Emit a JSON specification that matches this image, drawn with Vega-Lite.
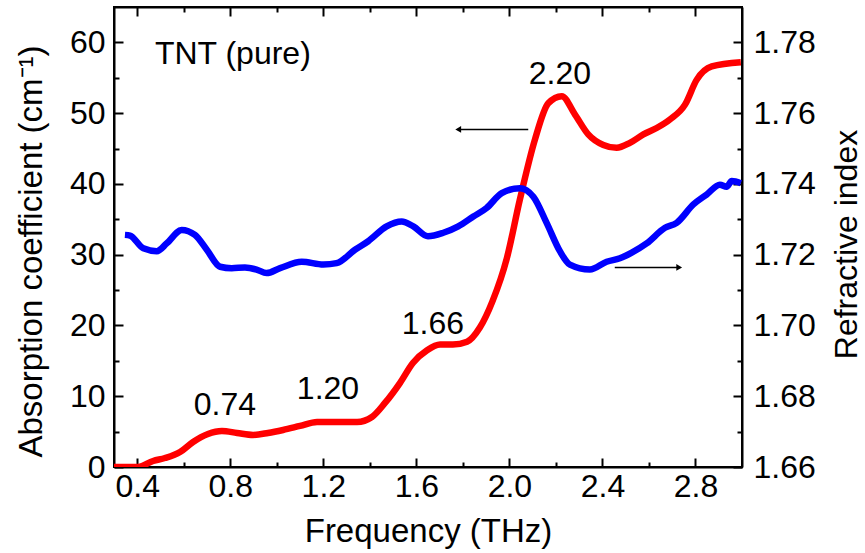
{
  "$schema": "https://vega.github.io/schema/vega-lite/v6.json",
  "width": 628,
  "height": 460,
  "autosize": {"type": "none"},
  "padding": {"left": 114, "top": 7, "right": 123, "bottom": 86},
  "background": "white",
  "config": {
    "font": "Liberation Sans",
    "view": {"stroke": "black", "strokeWidth": 2},
    "axis": {
      "domainColor": "black", "domainWidth": 2, "tickColor": "black", "tickWidth": 2,
      "labelFont": "Liberation Sans", "labelFontSize": 32, "labelColor": "black",
      "titleFont": "Liberation Sans", "titleFontSize": 33, "titleFontWeight": "normal", "titleColor": "black",
      "grid": false
    }
  },
  "datasets": {
    "absorption": [
      {"f": 0.30, "a": 0}, {"f": 0.403, "a": 0}, {"f": 0.468, "a": 0.85}, {"f": 0.519, "a": 1.27},
      {"f": 0.584, "a": 2.12}, {"f": 0.640, "a": 3.54}, {"f": 0.704, "a": 4.67}, {"f": 0.764, "a": 5.09},
      {"f": 0.829, "a": 4.81}, {"f": 0.898, "a": 4.53}, {"f": 0.962, "a": 4.81}, {"f": 1.027, "a": 5.23},
      {"f": 1.100, "a": 5.80}, {"f": 1.173, "a": 6.36}, {"f": 1.237, "a": 6.36}, {"f": 1.345, "a": 6.36},
      {"f": 1.409, "a": 7.07}, {"f": 1.465, "a": 9.05}, {"f": 1.530, "a": 11.9}, {"f": 1.585, "a": 14.7},
      {"f": 1.646, "a": 16.5}, {"f": 1.702, "a": 17.3}, {"f": 1.757, "a": 17.3}, {"f": 1.818, "a": 17.7},
      {"f": 1.873, "a": 19.7}, {"f": 1.927, "a": 23.4}, {"f": 1.989, "a": 29.5}, {"f": 2.045, "a": 37.8},
      {"f": 2.110, "a": 46.3}, {"f": 2.167, "a": 51.4}, {"f": 2.225, "a": 52.4}, {"f": 2.282, "a": 49.8},
      {"f": 2.339, "a": 47.0}, {"f": 2.404, "a": 45.5}, {"f": 2.461, "a": 45.1}, {"f": 2.518, "a": 45.8},
      {"f": 2.576, "a": 47.0}, {"f": 2.633, "a": 47.9}, {"f": 2.690, "a": 49.1}, {"f": 2.755, "a": 51.2},
      {"f": 2.805, "a": 54.7}, {"f": 2.870, "a": 56.6}, {"f": 2.995, "a": 57.2}
    ],
    "index": [
      {"f": 0.347, "n": 1.7256}, {"f": 0.369, "n": 1.7254}, {"f": 0.426, "n": 1.7218}, {"f": 0.484, "n": 1.7210},
      {"f": 0.527, "n": 1.7232}, {"f": 0.591, "n": 1.7270}, {"f": 0.648, "n": 1.7256}, {"f": 0.699, "n": 1.7214},
      {"f": 0.756, "n": 1.7166}, {"f": 0.806, "n": 1.7162}, {"f": 0.863, "n": 1.7164}, {"f": 0.913, "n": 1.7158},
      {"f": 0.956, "n": 1.7148}, {"f": 1.014, "n": 1.7162}, {"f": 1.107, "n": 1.7180}, {"f": 1.200, "n": 1.7172},
      {"f": 1.257, "n": 1.7176}, {"f": 1.336, "n": 1.7214}, {"f": 1.393, "n": 1.7238}, {"f": 1.472, "n": 1.7280},
      {"f": 1.537, "n": 1.7294}, {"f": 1.587, "n": 1.7280}, {"f": 1.650, "n": 1.7252}, {"f": 1.716, "n": 1.7262},
      {"f": 1.780, "n": 1.7280}, {"f": 1.845, "n": 1.7308}, {"f": 1.902, "n": 1.7332}, {"f": 1.967, "n": 1.7374},
      {"f": 2.045, "n": 1.7388}, {"f": 2.103, "n": 1.7364}, {"f": 2.160, "n": 1.7290}, {"f": 2.217, "n": 1.7210},
      {"f": 2.260, "n": 1.7172}, {"f": 2.346, "n": 1.7158}, {"f": 2.418, "n": 1.7180}, {"f": 2.475, "n": 1.7190},
      {"f": 2.526, "n": 1.7206}, {"f": 2.590, "n": 1.7232}, {"f": 2.669, "n": 1.7276}, {"f": 2.719, "n": 1.7290},
      {"f": 2.791, "n": 1.7342}, {"f": 2.848, "n": 1.7370}, {"f": 2.905, "n": 1.7398}, {"f": 2.934, "n": 1.7392},
      {"f": 2.956, "n": 1.7408}, {"f": 2.995, "n": 1.7402}
    ],
    "labels": [
      {"f": 0.777, "a": 8.8, "text": "0.74"},
      {"f": 1.22, "a": 11.0, "text": "1.20"},
      {"f": 1.671, "a": 20.2, "text": "1.66"},
      {"f": 2.217, "a": 55.6, "text": "2.20"}
    ],
    "arrows": [
      {"f1": 2.081, "f2": 1.780, "a": 47.7, "shape": "triangle-left"},
      {"f1": 2.453, "f2": 2.730, "a": 28.2, "shape": "triangle-right"}
    ]
  },
  "resolve": {"scale": {"y": "independent"}, "axis": {"x": "independent", "y": "independent"}},
  "layer": [
    {
      "data": {"name": "absorption"},
      "mark": {"type": "line", "color": "#ff0000", "strokeWidth": 6.5, "interpolate": "monotone", "clip": true},
      "encoding": {
        "x": {"field": "f", "type": "quantitative",
          "scale": {"domain": [0.3, 3.0], "nice": false, "zero": false},
          "axis": {"orient": "bottom", "title": "Frequency (THz)",
            "values": [0.4, 0.6, 0.8, 1.0, 1.2, 1.4, 1.6, 1.8, 2.0, 2.2, 2.4, 2.6, 2.8],
            "labelExpr": "round(datum.value*10) % 4 == 0 ? format(datum.value, '.1f') : ''",
            "tickSize": {"condition": {"test": "round(datum.value*10) % 4 == 0", "value": -9}, "value": -5},
            "labelPadding": 13, "labelFlush": false, "labelOverlap": false,
            "titleX": 314, "titleY": 64, "titleBaseline": "middle", "titleAlign": "center"}
        },
        "y": {"field": "a", "type": "quantitative",
          "scale": {"domain": [0, 65], "nice": false, "zero": false},
          "axis": {"orient": "left", "title": "Absorption coefficient (cm⁻¹)",
            "values": [0, 5, 10, 15, 20, 25, 30, 35, 40, 45, 50, 55, 60],
            "labelExpr": "datum.value % 10 == 0 ? datum.label : ''",
            "tickSize": {"condition": {"test": "datum.value % 10 == 0", "value": -9}, "value": -5},
            "labelPadding": 18, "labelFlush": false, "labelOverlap": false, "labelBaseline": "middle",
            "titleX": -83, "titleY": 244, "titleBaseline": "middle", "titleAlign": "center", "titleAngle": 270}
        }
      }
    },
    {
      "data": {"name": "index"},
      "mark": {"type": "line", "color": "#0000ff", "strokeWidth": 6.5, "interpolate": "monotone", "clip": true},
      "encoding": {
        "x": {"field": "f", "type": "quantitative",
          "scale": {"domain": [0.3, 3.0], "nice": false, "zero": false},
          "axis": {"orient": "top", "title": null,
            "values": [0.4, 0.6, 0.8, 1.0, 1.2, 1.4, 1.6, 1.8, 2.0, 2.2, 2.4, 2.6, 2.8],
            "labels": false,
            "tickSize": {"condition": {"test": "round(datum.value*10) % 4 == 0", "value": -9}, "value": -5}}
        },
        "y": {"field": "n", "type": "quantitative",
          "scale": {"domain": [1.66, 1.79], "nice": false, "zero": false},
          "axis": {"orient": "right", "title": "Refractive index",
            "values": [1.66, 1.67, 1.68, 1.69, 1.70, 1.71, 1.72, 1.73, 1.74, 1.75, 1.76, 1.77, 1.78],
            "labelExpr": "round(datum.value*100) % 2 == 0 ? format(datum.value, '.2f') : ''",
            "tickSize": {"condition": {"test": "round(datum.value*100) % 2 == 0", "value": -9}, "value": -5},
            "labelPadding": 20, "labelFlush": false, "labelOverlap": false, "labelBaseline": "middle",
            "titleFontSize": 32,
            "titleX": 104, "titleY": 237, "titleBaseline": "middle", "titleAlign": "center", "titleAngle": 270}
        }
      }
    },
    {
      "data": {"name": "labels"},
      "mark": {"type": "text", "fontSize": 32, "color": "black", "align": "center", "baseline": "middle"},
      "encoding": {
        "x": {"field": "f", "type": "quantitative", "scale": {"domain": [0.3, 3.0], "nice": false, "zero": false}, "axis": null},
        "y": {"field": "a", "type": "quantitative", "scale": {"domain": [0, 65], "nice": false, "zero": false}, "axis": null},
        "text": {"field": "text"}
      }
    },
    {
      "data": {"values": [{"f": 0.476, "a": 58.3, "text": "TNT (pure)"}]},
      "mark": {"type": "text", "fontSize": 32, "color": "black", "align": "left", "baseline": "middle"},
      "encoding": {
        "x": {"field": "f", "type": "quantitative", "scale": {"domain": [0.3, 3.0], "nice": false, "zero": false}, "axis": null},
        "y": {"field": "a", "type": "quantitative", "scale": {"domain": [0, 65], "nice": false, "zero": false}, "axis": null},
        "text": {"field": "text"}
      }
    },
    {
      "data": {"name": "arrows"},
      "mark": {"type": "rule", "color": "black", "strokeWidth": 1.5},
      "encoding": {
        "x": {"field": "f1", "type": "quantitative", "scale": {"domain": [0.3, 3.0], "nice": false, "zero": false}, "axis": null},
        "x2": {"field": "f2"},
        "y": {"field": "a", "type": "quantitative", "scale": {"domain": [0, 65], "nice": false, "zero": false}, "axis": null}
      }
    },
    {
      "data": {"name": "arrows"},
      "mark": {"type": "point", "filled": true, "color": "black", "size": 45, "opacity": 1},
      "encoding": {
        "x": {"field": "f2", "type": "quantitative", "scale": {"domain": [0.3, 3.0], "nice": false, "zero": false}, "axis": null},
        "y": {"field": "a", "type": "quantitative", "scale": {"domain": [0, 65], "nice": false, "zero": false}, "axis": null},
        "shape": {"field": "shape", "type": "nominal", "scale": {"domain": ["triangle-left", "triangle-right"], "range": ["triangle-left", "triangle-right"]}, "legend": null}
      }
    }
  ]
}
